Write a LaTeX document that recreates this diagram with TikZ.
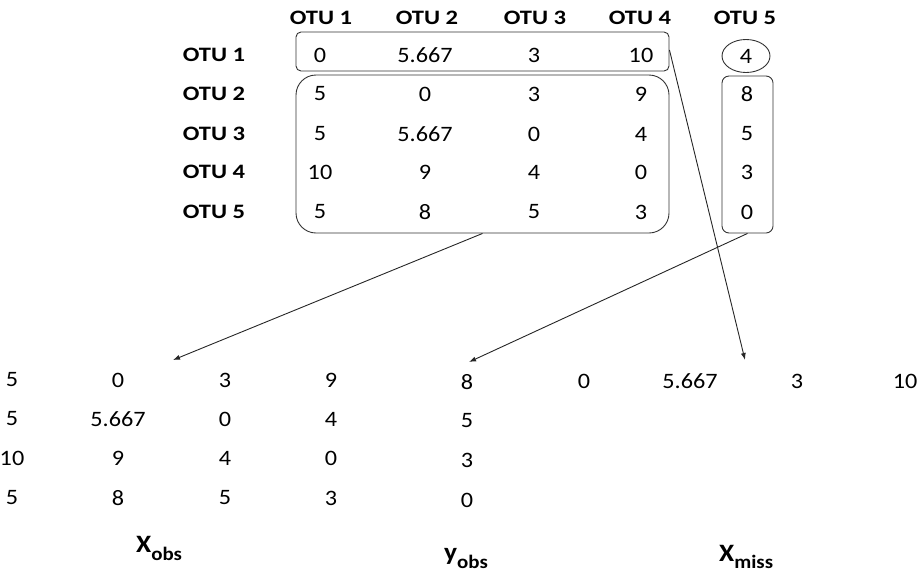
\documentclass[tikz,border=0pt]{standalone}
\usepackage{fontspec}
\setmainfont{Carlito}[FakeStretch=1.1]
\newfontfamily\hdrfont{Carlito}[FakeStretch=1.2]
\usetikzlibrary{shapes.geometric,arrows.meta}

\tikzset{
  num/.style={inner sep=0pt, font=\fontsize{22}{24}\selectfont},
  hdr/.style={inner sep=0pt, font=\hdrfont\bfseries\fontsize{20.5}{22}\selectfont},
  lab/.style={inner sep=0pt, font=\bfseries\fontsize{25}{27}\selectfont},
  frame/.style={draw=black!80, line width=0.9pt, inner sep=0pt},
  link/.style={draw=black!85, line width=0.9pt, -{Latex[length=7pt,width=5pt]}},
}
\newcommand{\subtxt}[2][8pt]{\raisebox{-#1}{\fontsize{19}{21}\selectfont #2}}

\begin{document}
\begin{tikzpicture}[x=1pt,y=-1pt]
\useasboundingbox (0,0) rectangle (917,574);

% column headers
\foreach \n/\x in {1/321,2/427,3/535,4/640,5/745}
  \node[hdr] (h\n) at (\x,17.5) {OTU \n};

% row headers
\foreach \n/\y in {1/55,2/94,3/134,4/172,5/212}
  \node[hdr] (r\n) at (214,\y) {OTU \n};

% distance matrix, columns 1-4
\foreach \r/\y/\a/\b/\c/\d in {1/55/0/5.667/3/10,
                                2/94/5/0/3/9,
                                3/134/5/5.667/0/4,
                                4/172/10/9/4/0,
                                5/212/5/8/5/3}{
  \node[num] (m\r-1) at (320,\y) {\a};
  \node[num] (m\r-2) at (425,\y) {\b};
  \node[num] (m\r-3) at (534,\y) {\c};
  \node[num] (m\r-4) at (641,\y) {\d};
}

% column 5
\node[num] (m1-5) at (746,56) {4};
\foreach \r/\y/\v in {2/94/8,3/134/5,4/172/3,5/212/0}
  \node[num] (m\r-5) at (747,\y) {\v};

% groupings
\node[frame, rounded corners=5pt, minimum width=373pt, minimum height=39pt] (toprow) at (482.5,51.5) {};
\node[frame, rounded corners=20pt, minimum width=373pt, minimum height=158pt] (obsblock) at (482.5,154) {};
\node[frame, ellipse, minimum width=48pt, minimum height=33pt] (misscell) at (746,56) {};
\node[frame, rounded corners=7pt, minimum width=51pt, minimum height=157pt] (obscol) at (747.5,154.5) {};

% X_obs
\foreach \r/\y/\a/\b/\c/\d in {1/380/5/0/3/9,
                                2/419/5/5.667/0/4,
                                3/458/10/9/4/0,
                                4/498/5/8/5/3}{
  \node[num] (x\r-1) at (12,\y) {\a};
  \node[num] (x\r-2) at (118,\y) {\b};
  \node[num] (x\r-3) at (225,\y) {\c};
  \node[num] (x\r-4) at (331,\y) {\d};
}

% y_obs
\foreach \r/\y/\v in {1/382/8,2/421/5,3/460/3,4/500/0}
  \node[num] (y\r) at (467,\y) {\v};

% X_miss
\foreach \c/\x/\v in {1/584/0,2/690/5.667,3/797/3,4/905/10}
  \node[num] (xm\c) at (\x,381) {\v};

% block names
\node[lab, anchor=base west] (lxobs) at (136,552) {X\subtxt{obs}};
\node[lab, anchor=base west] (lyobs) at (444,560) {y\subtxt{obs}};
\node[lab, anchor=base west] (lxmiss) at (719,561) {X\subtxt[7pt]{miss}};

% arrow targets
\coordinate (tx) at (173,360);
\coordinate (ty) at (469,362);
\coordinate (tm) at (745,360);

\draw[link] (obsblock.south) -- (tx);
\draw[link] (obscol.south) -- (ty);
\draw[link] ([yshift=1.5pt]toprow.east) -- (tm);
\end{tikzpicture}
\end{document}
